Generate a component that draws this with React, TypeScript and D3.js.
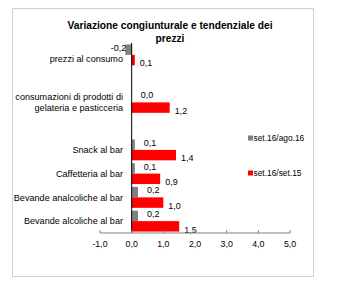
import React from "react";
import * as d3 from "d3";

const categories: string[] = [
  "prezzi al consumo",
  "",
  "consumazioni di prodotti di|gelateria e pasticceria",
  "",
  "Snack al bar",
  "Caffetteria al bar",
  "Bevande analcoliche al bar",
  "Bevande alcoliche al bar",
];
const seriesNames: string[] = ["set.16/ago.16", "set.16/set.15"];
const congValues: (number | null)[] = [-0.2, null, 0.0, null, 0.1, 0.1, 0.2, 0.2];
const tendValues: (number | null)[] = [0.1, null, 1.2, null, 1.4, 0.9, 1.0, 1.5];
const xTicks: number[] = [-1, 0, 1, 2, 3, 4, 5];

const W = 361;
const H = 284;
const FONT = "'Liberation Sans', Arial, sans-serif";
const colors = ["#808080", "#ff0000"];

const fmt = (v: number) => d3.format(".1f")(v).replace(".", ",").replace("−", "-");

export default function App() {
  const x = d3.scaleLinear().domain([-1, 5]).range([100, 290]);
  const y = d3
    .scaleBand<number>()
    .domain(categories.map((_, i) => i))
    .range([43, 233])
    .paddingInner(0.12)
    .paddingOuter(0.06);
  const sub = d3.scaleBand<number>().domain([0, 1]).range([0, y.bandwidth()]);
  const series = [congValues, tendValues];
  const x0 = x(0);

  return (
    <svg
      width={W}
      height={H}
      style={{ position: "absolute", left: 0, top: 0, background: "#fff" }}
      fontFamily={FONT}
    >
      <rect x={12.5} y={8.5} width={301} height={268} fill="#fff" stroke="#d0d0d0" />
      <text x={170} y={29} textAnchor="middle" fontSize={10.2} fontWeight="bold" fill="#000">
        Variazione congiunturale e tendenziale dei
      </text>
      <text x={170} y={42} textAnchor="middle" fontSize={10.2} fontWeight="bold" fill="#000">
        prezzi
      </text>

      {series.map((vals, s) =>
        vals.map((v, i) => {
          if (v === null) return null;
          const yy = (y(i) as number) + (sub(s) as number);
          const h = sub.bandwidth();
          const xs = Math.min(x(v), x0);
          const w = Math.abs(x(v) - x0);
          return <rect key={`b${s}-${i}`} x={xs} y={yy} width={w} height={h} fill={colors[s]} />;
        })
      )}

      {series.map((vals, s) =>
        vals.map((v, i) => {
          if (v === null) return null;
          const yy = (y(i) as number) + (sub(s) as number) + sub.bandwidth() / 2;
          const neg = v < 0;
          const lx = neg ? x(v) + 1 : x(v) + (s === 0 ? 9 : 5);
          const ly = yy + (s === 0 ? -2 : 3);
          return (
            <text
              key={`l${s}-${i}`}
              x={lx}
              y={ly}
              dy="0.35em"
              textAnchor={neg ? "end" : "start"}
              fontSize={9}
              fill="#000"
            >
              {fmt(v)}
            </text>
          );
        })
      )}

      {categories.map((c, i) => {
        if (!c) return null;
        const lines = c.split("|");
        const cy = (y(i) as number) + y.bandwidth() / 2 + (i === 0 ? 4 : 0);
        return (
          <text key={`c${i}`} x={123} textAnchor="end" fontSize={9.1} fill="#000">
            {lines.map((ln, k) => (
              <tspan key={k} x={123} y={cy + (k - (lines.length - 1) / 2) * 11} dy="0.35em">
                {ln}
              </tspan>
            ))}
          </text>
        );
      })}

      <line x1={x0} x2={x0} y1={43} y2={233} stroke="#000" strokeWidth={1} />
      <line x1={x(-1)} x2={x(5)} y1={233} y2={233} stroke="#808080" strokeWidth={1} />
      {xTicks.map((t) => (
        <g key={`t${t}`}>
          <line x1={x(t)} x2={x(t)} y1={230} y2={233} stroke="#808080" />
          <text x={x(t)} y={244} dy="0.35em" textAnchor="middle" fontSize={8.8} fill="#000">
            {fmt(t)}
          </text>
        </g>
      ))}

      {seriesNames.map((n, s) => (
        <g key={`g${s}`}>
          <rect x={248} y={(s === 0 ? 138 : 173) - 2.5} width={5} height={5} fill={colors[s]} />
          <text x={253.5} y={s === 0 ? 138 : 173} dy="0.35em" fontSize={8.4} fill="#000">
            {n}
          </text>
        </g>
      ))}
    </svg>
  );
}
